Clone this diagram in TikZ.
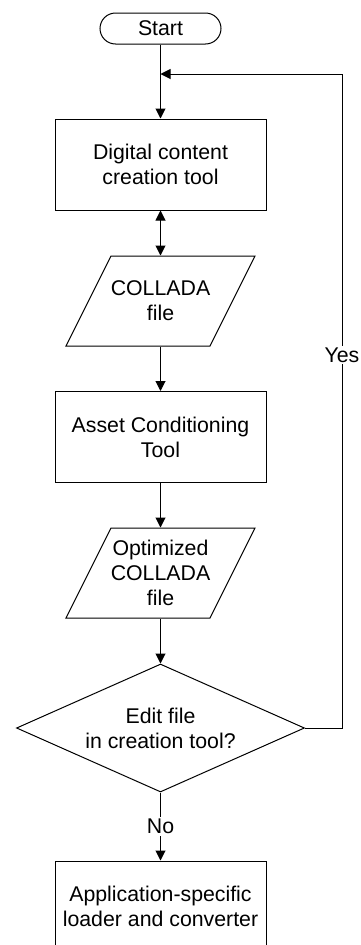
\documentclass[tikz,border=0pt]{standalone}
\usepackage{fontspec}
\setmainfont{Liberation Sans}
\usetikzlibrary{shapes.geometric,arrows.meta}
\begin{document}
\begin{tikzpicture}[x=1pt,y=-1pt, line width=1pt,
 every node/.style={font=\fontsize{21.3}{25}\selectfont, align=center, inner sep=0pt},
 proc/.style={draw, minimum width=211pt, minimum height=91pt},
 term/.style={draw, minimum width=121pt, minimum height=31pt, rounded corners=15.5pt},
 io/.style={minimum width=189pt, minimum height=90pt},
 dec/.style={draw, diamond, minimum width=288pt, minimum height=128pt, aspect=2.25},
 arr/.style={-{Triangle[length=10pt,width=10pt]}},
 darr/.style={{Triangle[length=10pt,width=10pt]}-{Triangle[length=10pt,width=10pt]}},
 lbl/.style={fill=white, inner sep=2pt}]
\useasboundingbox (0,0) rectangle (360,945);
\node[term] (start) at (160.5,28.5) {Start};
\node[proc] (b1) at (160.5,164.5) {Digital content\\creation tool};
\node[io] (p1) at (160.5,301) {COLLADA\\file};
\node[proc] (b2) at (160.5,437) {Asset Conditioning\\Tool};
\node[io] (p2) at (160.5,573) {Optimized\\COLLADA\\file};
\node[dec] (d) at (160.5,728) {Edit file\\in creation tool?};
\node[proc] (b3) at (160.5,906.5) {Application-specific\\loader and converter};
\foreach \n in {p1,p2}
  \draw (\n.center) ++(-49.5,-45) -- ++(144,0) -- ++(-45,90) -- ++(-144,0) -- cycle;
\coordinate (m) at (160.5,74);
\coordinate (c1) at (342,74);
\draw[arr] (start.south) -- (b1.north);
\draw[darr] (b1.south) -- (p1.north);
\draw[arr] (p1.south) -- (b2.north);
\draw[arr] (b2.south) -- (p2.north);
\draw[arr] (p2.south) -- (d.north);
\draw[arr] (d.south) -- node[lbl] (no) {No} (b3.north);
\draw[arr] (d.east) -| (c1) -- (m);
\node[lbl] (yes) at (342,355) {Yes};
\end{tikzpicture}
\end{document}
